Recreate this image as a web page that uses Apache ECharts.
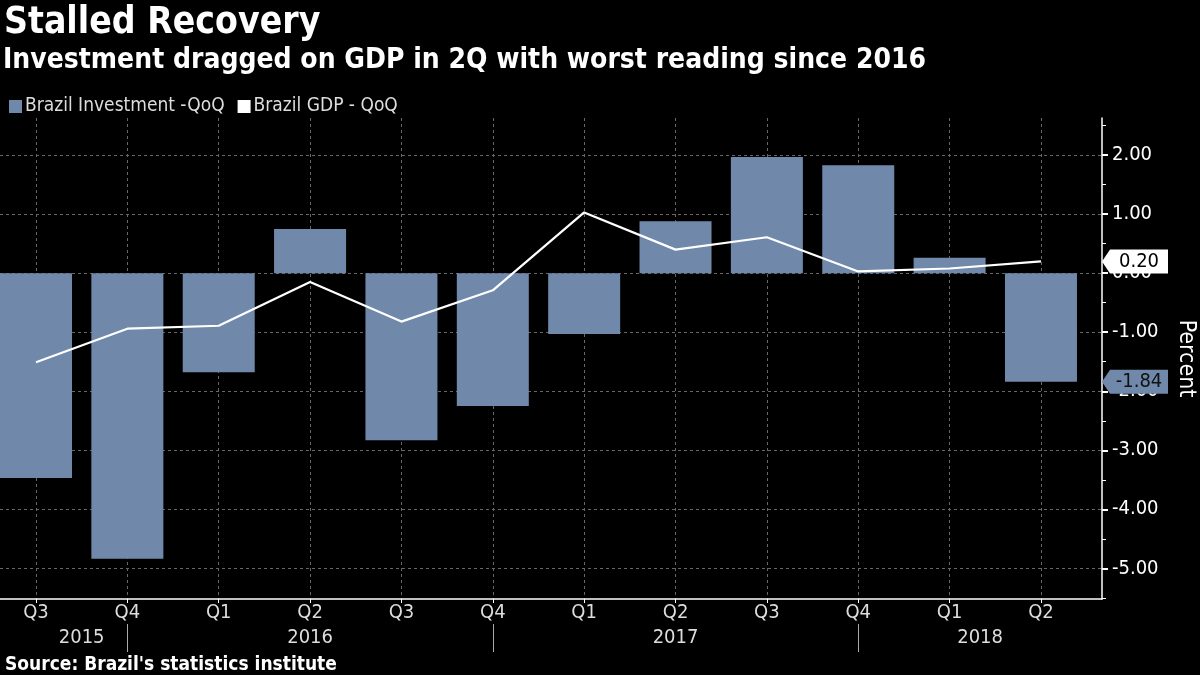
<!DOCTYPE html>
<html>
<head>
<meta charset="utf-8">
<script src="https://cdn.jsdelivr.net/npm/echarts@6/dist/echarts.min.js"></script>
<style>
html,body{margin:0;padding:0;background:#000;}
#chart{width:1200px;height:675px;}
</style>
</head>
<body>
<div id="chart"></div>
<script>
// ---- data ----
const quarters = ['Q3','Q4','Q1','Q2','Q3','Q4','Q1','Q2','Q3','Q4','Q1','Q2'];
const years = ['2015','2016','2017','2018'];
const yearBreakIdx = [1, 5, 9];           // Q4 of each year: separator positions
const investment = [-3.47, -4.84, -1.68, 0.75, -2.83, -2.25, -1.03, 0.88, 1.97, 1.83, 0.26, -1.84];
const gdp = [-1.51, -0.94, -0.89, -0.15, -0.82, -0.29, 1.03, 0.40, 0.61, 0.03, 0.08, 0.20];
const yTicks = [-5, -4, -3, -2, -1, 0, 1, 2];
const yMinorTicks = [-5.5, -4.5, -3.5, -2.5, -1.5, -0.5, 0.5, 1.5, 2.5];

// ---- layout ----
const X_MIN = -0.394, X_MAX = 11.668;
const Y_MIN = -5.52, Y_MAX = 2.63;
const BAR_COLOR = '#7089ab';
const FONT = '"DejaVu Sans Condensed", "DejaVu Sans", sans-serif';

const idx = quarters.map((q, i) => i);
const invData = investment.map((v, i) => [i, v]);
const gdpData = gdp.map((v, i) => [i, v]);
const bounds = [0].concat(yearBreakIdx, [X_MAX]);
const yearPos = years.map((y, i) => (bounds[i] + bounds[i + 1]) / 2);

const arrowPath = 'path://M0,12 L8,0 L66,0 L66,24 L8,24 Z';

const chart = echarts.init(document.getElementById('chart'), null, {renderer: 'canvas'});
chart.setOption({
  backgroundColor: '#000',
  animation: false,
  textStyle: {fontFamily: FONT},
  title: [
    {text: 'Stalled Recovery', left: -1, top: 0,
     textStyle: {color: '#fff', fontSize: 37, fontWeight: 'bold', fontFamily: FONT}},
    {text: 'Investment dragged on GDP in 2Q with worst reading since 2016', left: -2, top: 42,
     textStyle: {color: '#fff', fontSize: 28, fontWeight: 'bold', fontFamily: FONT}},
    {text: "Source: Brazil's statistics institute", left: 0, top: 651,
     textStyle: {color: '#fff', fontSize: 19, fontWeight: 'bold', fontFamily: FONT}}
  ],
  legend: {
    left: 4, top: 92, itemWidth: 13, itemHeight: 13, itemGap: 13,
    icon: 'rect',
    textStyle: {color: '#ddd', fontSize: 19, fontFamily: FONT, padding: [0, 0, 0, -2]},
    data: [
      {name: 'Brazil Investment -QoQ', itemStyle: {color: BAR_COLOR}},
      {name: 'Brazil GDP - QoQ', itemStyle: {color: '#fff'}}
    ]
  },
  grid: {left: 0, right: 98, top: 118, bottom: 76, containLabel: false, outerBoundsMode: 'none'},
  xAxis: [
    {
      type: 'value', min: X_MIN, max: X_MAX, position: 'bottom',
      axisLine: {show: true, onZero: false, lineStyle: {color: '#fff', width: 1.5}},
      axisTick: {show: true, customValues: idx, length: 4, lineStyle: {color: '#fff'}},
      axisLabel: {customValues: idx, formatter: v => quarters[Math.round(v)],
                  color: '#ddd', fontSize: 20, margin: 4, fontFamily: FONT},
      splitLine: {show: true, lineStyle: {color: '#666', type: [3, 3], width: 1}}
    },
    {
      type: 'value', min: X_MIN, max: X_MAX, position: 'bottom', offset: 25,
      axisLine: {show: false, onZero: false},
      axisTick: {show: true, customValues: yearBreakIdx, length: 28, inside: false,
                 lineStyle: {color: '#aaa'}},
      axisLabel: {customValues: yearPos,
                  formatter: v => { const k = yearPos.findIndex(p => Math.abs(p - v) < 1e-6); return k >= 0 ? years[k] : ''; },
                  color: '#ddd', fontSize: 20, margin: 4, fontFamily: FONT},
      splitLine: {show: false}
    }
  ],
  yAxis: [
    {
      type: 'value', min: Y_MIN, max: Y_MAX, position: 'right',
      name: 'Percent', nameLocation: 'middle', nameRotate: -90, nameGap: 72,
      nameTextStyle: {color: '#fff', fontSize: 23, fontFamily: FONT},
      axisLine: {show: true, onZero: false, lineStyle: {color: '#fff', width: 1.5}},
      axisTick: {show: true, customValues: yTicks, length: 6, lineStyle: {color: '#fff', width: 2}},
      axisLabel: {customValues: yTicks, formatter: v => v.toFixed(2),
                  color: '#fff', fontSize: 20, margin: 10, fontFamily: FONT},
      splitLine: {show: true, lineStyle: {color: '#666', type: [3, 3], width: 1}}
    },
    {
      type: 'value', min: Y_MIN, max: Y_MAX, position: 'right',
      axisLine: {show: false, onZero: false},
      axisTick: {show: true, customValues: yMinorTicks, length: 4, lineStyle: {color: '#fff'}},
      axisLabel: {show: false},
      splitLine: {show: false}
    }
  ],
  series: [
    {
      name: 'Brazil Investment -QoQ', type: 'bar', xAxisIndex: 0, yAxisIndex: 0,
      data: invData, barWidth: 72, itemStyle: {color: BAR_COLOR}, z: 2,
      markPoint: {
        symbol: arrowPath, symbolSize: [66, 24], symbolOffset: [33, 0], symbolKeepAspect: false,
        itemStyle: {color: BAR_COLOR},
        label: {show: true, position: 'inside', offset: [4, 0], color: '#111', fontSize: 20, fontFamily: FONT,
                formatter: p => p.value.toFixed(2)},
        data: [{coord: [X_MAX, investment[investment.length - 1]], value: investment[investment.length - 1]}],
        z: 10
      }
    },
    {
      name: 'Brazil GDP - QoQ', type: 'line', xAxisIndex: 0, yAxisIndex: 0,
      data: gdpData, showSymbol: false, symbol: 'none',
      lineStyle: {color: '#fff', width: 2.2}, itemStyle: {color: '#fff'}, z: 3,
      markPoint: {
        symbol: arrowPath, symbolSize: [66, 24], symbolOffset: [33, 0], symbolKeepAspect: false,
        itemStyle: {color: '#fff'},
        label: {show: true, position: 'inside', offset: [4, 0], color: '#000', fontSize: 20, fontFamily: FONT,
                formatter: p => p.value.toFixed(2)},
        data: [{coord: [X_MAX, gdp[gdp.length - 1]], value: gdp[gdp.length - 1]}],
        z: 10
      }
    }
  ]
});
</script>
</body>
</html>
